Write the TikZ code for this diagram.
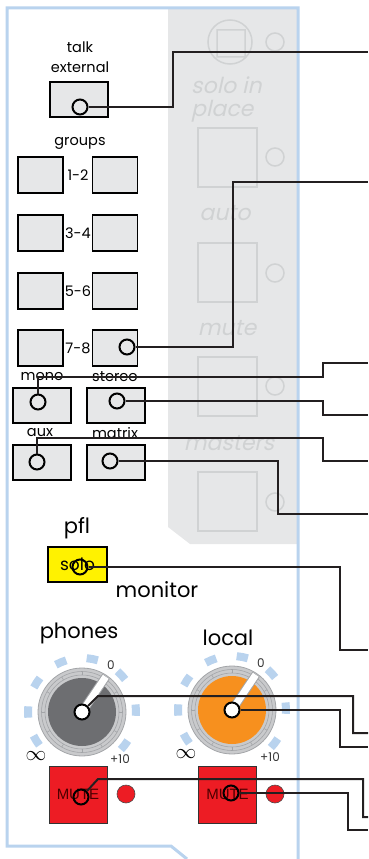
\documentclass[tikz,border=0pt]{standalone}
\usepackage{fontspec}
\setmainfont{Poppins}
\newfontfamily\mutefont{Liberation Sans}
\newfontfamily\ghostfont[FakeSlant=0.22]{Poppins}
\usetikzlibrary{calc}
\definecolor{cFrame}{HTML}{B9D3EE}
\definecolor{cPanel}{HTML}{E6E7E8}
\definecolor{cGhost}{HTML}{D0D2D3}
\definecolor{cRing}{HTML}{C9CACC}
\definecolor{cRingLine}{HTML}{A3A5A8}
\definecolor{cSlate}{HTML}{6D6E71}
\definecolor{cOrange}{HTML}{F7901E}
\definecolor{cRed}{HTML}{ED1C24}
\definecolor{cYellow}{HTML}{FFF200}
\definecolor{cWire}{HTML}{231F20}
\tikzset{
  frame/.style={draw=cFrame, line width=3pt},
  ghost/.style={draw=cGhost, line width=1.5pt},
  ghosttxt/.style={text=cGhost, font=\fontsize{22}{22}\ghostfont, inner sep=0pt},
  key/.style={draw=black, line width=1.5pt, fill=#1, inner sep=0pt},
  key/.default=cPanel,
  mutekey/.style={draw=black!80, line width=1pt, fill=cRed, inner sep=0pt,
                  minimum width=58pt, minimum height=57pt, text=black!70!red,
                  font=\fontsize{15}{15}\mutefont},
  led/.style={circle, draw=black!70, line width=0.6pt, fill=cRed, minimum size=18pt, inner sep=0pt},
  pin/.style={circle, draw=black, line width=2pt, minimum size=15pt, inner sep=0pt},
  lbl/.style={font=\fontsize{14.5}{15}\selectfont, inner sep=0pt},
  big/.style={font=\fontsize{21}{21}\selectfont, inner sep=0pt},
  scl/.style={font=\fontsize{12}{12}\selectfont, text=black!80, inner sep=0pt},
  tick/.style={draw=cFrame, line width=8pt},
  wire/.style={draw=cWire, line width=2pt},
}
\begin{document}
\begin{tikzpicture}[x=1pt,y=-1pt]
  \useasboundingbox (0,0) rectangle (368,859);
  % panel and masters strip
  \fill[cPanel] (168,8) -- (297,8) -- (297,544) -- (190,544) -- (168,527) -- cycle;
  \draw[frame] (187,859) -- (171,846) -- (7,846) -- (7,8) -- (298,8) -- (298,859);
  \draw[ghost] (230,42) circle (22) (217,30) rectangle (245,57);
  \foreach \gy in {42,157,273,386,502} \draw[ghost] (275,\gy) circle (9);
  \foreach \gy in {128,243,357,472} \draw[ghost] (198,\gy) rectangle ++(59,59);
  \node[ghosttxt, anchor=west, align=left, font=\fontsize{22}{23}\ghostfont] (sip) at (191,99) {solo in\\place};
  \node[ghosttxt] (auto) at (225,213) {auto};
  \node[ghosttxt] (mute) at (227,328) {mute};
  \node[ghosttxt] (masters) at (229,443) {masters};

  % talk and groups
  \node[lbl] (talk) at (80,47) {talk};
  \node[lbl] (ext) at (80,67) {external};
  \node[key, minimum width=58pt, minimum height=35pt] (talkkey) at (79,99.5) {};
  \node[lbl] (groups) at (80,143) {groups};
  \foreach \g/\gy in {1-2/175,3-4/233,5-6/291,7-8/348}{
    \node[key, minimum width=45pt, minimum height=36pt] (grpL\g) at (40.5,\gy) {};
    \node[key, minimum width=45pt, minimum height=36pt] (grpR\g) at (115,\gy) {};
    \node[lbl] (grp\g) at (78,\gy) {\g};
  }
  \node[lbl] (monolbl) at (42,377) {mono};
  \node[lbl] (stereolbl) at (115,377) {stereo};
  \node[key, minimum width=58pt, minimum height=35pt] (mono) at (42,405.5) {};
  \node[key, minimum width=58pt, minimum height=35pt] (stereo) at (116,405.5) {};
  \node[lbl] (auxlbl) at (40,433) {aux};
  \node[lbl] (matrixlbl) at (115,433) {matrix};
  \node[key, minimum width=58pt, minimum height=35pt] (aux) at (42,462.5) {};
  \node[key, minimum width=58pt, minimum height=35pt] (matrix) at (116,462.5) {};

  % monitor
  \node[big] (pfl) at (77,528) {pfl};
  \node[key=cYellow, minimum width=59pt, minimum height=35pt, font=\fontsize{17}{17}\selectfont] (solo) at (77.5,564.5) {solo};
  \node[big] (monitor) at (157,590) {monitor};
  \node[big] (phones) at (79,633) {phones};
  \node[big] (local) at (228,638) {local};
  \foreach \kn/\kx/\ky/\kc in {phones/82/712/cSlate, local/232/710/cOrange}{
    \begin{scope}[shift={(\kx,\ky)}, yscale=-1]
      \foreach \a in {212,180,147,113,79,43,2,-38}
        \draw[tick] ({\a-6}:54) arc[start angle=\a-6, end angle=\a+6, radius=54];
      \draw[fill=cRing, draw=cRingLine, line width=0.8pt] (0,0) circle (44);
      \draw[cRingLine, line width=0.6pt] (0,0) circle (40.5) circle (37);
      \foreach \b in {0,30,...,330} \draw[cRingLine, line width=0.6pt] (\b:37) -- (\b:40.5);
      \fill[\kc] (0,0) circle (34);
      \draw[cRingLine, line width=9pt] (0,0) -- (56:43);
      \draw[white, line width=7pt] (0,0) -- (56:42.5);
      \node[pin, fill=white] (\kn pin) at (0,0) {};
      \node[scl] (\kn zero) at (29,47) {0};
      \node[scl] (\kn max) at (38,-47) {+10};
      \node[font=\fontsize{20}{20}\selectfont, inner sep=0pt] (\kn inf) at (-46,-44) {$\infty$};
    \end{scope}
  }
  \node[mutekey] (pmute) at (78,794.5) {MUTE};
  \node[mutekey] (lmute) at (227.5,794.5) {MUTE};
  \node[led] (pled) at (126,794) {};
  \node[led] (lled) at (275,794) {};

  % patch points
  \node[pin] (talkpin) at (80,107) {};
  \node[pin] (grppin) at (127,347) {};
  \node[pin] (monopin) at (38,402) {};
  \node[pin] (stereopin) at (117,401) {};
  \node[pin] (auxpin) at (37,462) {};
  \node[pin] (matrixpin) at (110,461) {};
  \node[pin] (solopin) at (80,567) {};
  \node[pin] (pmutepin) at (81,797) {};
  \node[pin] (lmutepin) at (231,793) {};

  % wires to the edge
  \coordinate (talkend) at (368,52);
  \coordinate (grpend) at (368,182);
  \coordinate (monoend) at (368,363);
  \coordinate (stereoend) at (368,415);
  \coordinate (auxend) at (368,461);
  \coordinate (matrixend) at (368,514);
  \coordinate (soloend) at (368,650);
  \coordinate (phonesend) at (368,733);
  \coordinate (localend) at (368,747);
  \coordinate (pmuteend) at (368,817);
  \coordinate (lmuteend) at (368,830);
  \draw[wire] (talkpin.east) -| (173,52) -- (talkend);
  \draw[wire] (grppin.east) -| (233,182) -- (grpend);
  \draw[wire] (monopin.north) |- (323,377) |- (monoend);
  \draw[wire] (stereopin.east) -| (323,415) -- (stereoend);
  \draw[wire] (auxpin.north) |- (323,438) |- (auxend);
  \draw[wire] (matrixpin.east) -| (278,514) -- (matrixend);
  \draw[wire] (solopin.east) -| (340,650) -- (soloend);
  \draw[wire] (phonespin.45) -- (98,696) -| (353,733) -- (phonesend);
  \draw[wire] (localpin.east) -| (340,747) -- (localend);
  \draw[wire] (pmutepin.45) -- (98,779) -| (363,817) -- (pmuteend);
  \draw[wire] (lmutepin.east) -| (348,830) -- (lmuteend);
\end{tikzpicture}
\end{document}
